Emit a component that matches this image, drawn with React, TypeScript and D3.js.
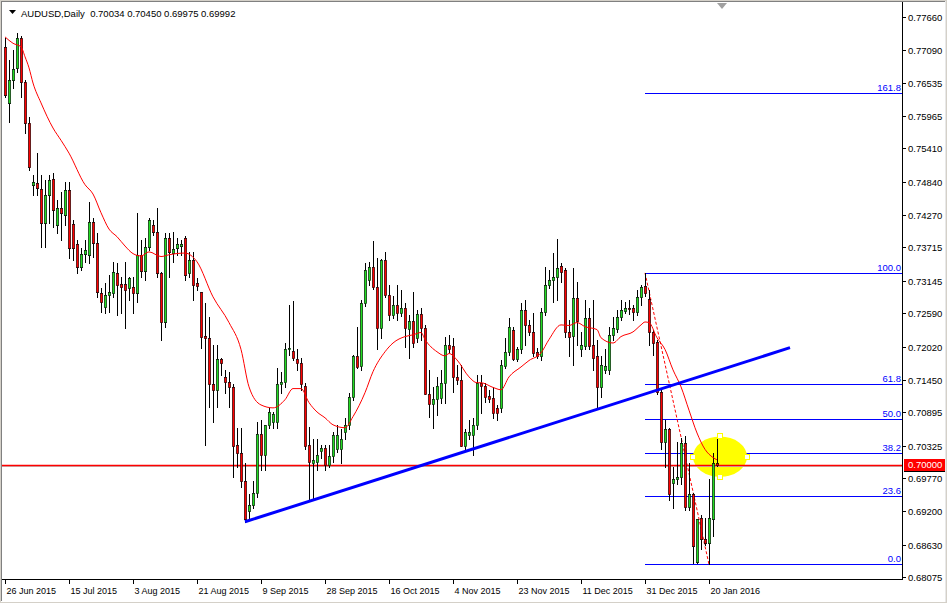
import * as d3 from "d3";

// AUDUSD daily bars, 26 Jun 2015 .. 22 Jan 2016 (index = bar position on the chart)
const opens = [
  0.7715, 0.7619, 0.7658, 0.7679, 0.7730, 0.7655, 0.7585, 0.7479, 0.7482, 0.7472,
  0.7414, 0.7462, 0.7489, 0.7410, 0.7439, 0.7427, 0.7470, 0.7412, 0.7378, 0.7338,
  0.7361, 0.7359, 0.7415, 0.7379, 0.7294, 0.7270, 0.7291, 0.7294, 0.7328, 0.7309,
  0.7309, 0.7303, 0.7304, 0.7294, 0.7359, 0.7332, 0.7373, 0.7410, 0.7398, 0.7328,
  0.7244, 0.7388, 0.7362, 0.7371, 0.7374, 0.7388, 0.7327, 0.7350, 0.7311, 0.7296,
  0.7220, 0.7217, 0.7137, 0.7128, 0.7181, 0.7149, 0.7142, 0.7133, 0.7034, 0.7020,
  0.6971, 0.6920, 0.6931, 0.6952, 0.7053, 0.7017, 0.7068, 0.7073, 0.7072, 0.7137,
  0.7142, 0.7197, 0.7195, 0.7181, 0.7174, 0.7135, 0.7034, 0.7003, 0.7005, 0.7024,
  0.7029, 0.7000, 0.7014, 0.7026, 0.7026, 0.7055, 0.7068, 0.7116, 0.7185, 0.7169,
  0.7277, 0.7315, 0.7338, 0.7304, 0.7234, 0.7350, 0.7291, 0.7256, 0.7273, 0.7260,
  0.7268, 0.7232, 0.7246, 0.7217, 0.7258, 0.7234, 0.7121, 0.7104, 0.7113, 0.7114,
  0.7140, 0.7205, 0.7203, 0.7150, 0.7145, 0.7032, 0.7051, 0.7051, 0.7067, 0.7140,
  0.7135, 0.7118, 0.7114, 0.7097, 0.7097, 0.7169, 0.7193, 0.7231, 0.7181, 0.7197,
  0.7265, 0.7239, 0.7227, 0.7193, 0.7186, 0.7261, 0.7308, 0.7315, 0.7321, 0.7340,
  0.7333, 0.7227, 0.7220, 0.7285, 0.7197, 0.7203, 0.7250, 0.7205, 0.7185, 0.7133,
  0.7161, 0.7161, 0.7222, 0.7232, 0.7253, 0.7263, 0.7268, 0.7268, 0.7261, 0.7287,
  0.7306, 0.7284, 0.7226, 0.7210, 0.7125, 0.7039, 0.7060, 0.6969, 0.6976, 0.6978,
  0.7036, 0.6928, 0.6949, 0.6834, 0.6909, 0.6873, 0.6866, 0.6906, 0.70034,
];
const highs = [
  0.7730, 0.7692, 0.7710, 0.7739, 0.7733, 0.7658, 0.7595, 0.7496, 0.7533, 0.7496,
  0.7487, 0.7496, 0.7499, 0.7453, 0.7467, 0.7484, 0.7484, 0.7419, 0.7385, 0.7371,
  0.7385, 0.7450, 0.7422, 0.7397, 0.7303, 0.7311, 0.7325, 0.7347, 0.7345, 0.7321,
  0.7347, 0.7321, 0.7321, 0.7431, 0.7385, 0.7388, 0.7422, 0.7419, 0.7439, 0.7330,
  0.7397, 0.7397, 0.7398, 0.7388, 0.7385, 0.7391, 0.7364, 0.7364, 0.7320, 0.7296,
  0.7277, 0.7253, 0.7205, 0.7205, 0.7183, 0.7162, 0.7159, 0.7137, 0.7063, 0.7063,
  0.7003, 0.6949, 0.6971, 0.7072, 0.7077, 0.7068, 0.7097, 0.7090, 0.7166, 0.7159,
  0.7208, 0.7273, 0.7280, 0.7197, 0.7183, 0.7140, 0.7065, 0.7043, 0.7043, 0.7034,
  0.7034, 0.7034, 0.7056, 0.7068, 0.7060, 0.7080, 0.7123, 0.7188, 0.7236, 0.7282,
  0.7345, 0.7347, 0.7383, 0.7354, 0.7352, 0.7364, 0.7308, 0.7289, 0.7308, 0.7299,
  0.7277, 0.7256, 0.7296, 0.7265, 0.7268, 0.7238, 0.7162, 0.7133, 0.7150, 0.7162,
  0.7219, 0.7222, 0.7217, 0.7171, 0.7171, 0.7060, 0.7077, 0.7080, 0.7154, 0.7154,
  0.7140, 0.7128, 0.7132, 0.7102, 0.7179, 0.7217, 0.7250, 0.7236, 0.7202, 0.7277,
  0.7282, 0.7248, 0.7260, 0.7200, 0.7268, 0.7338, 0.7333, 0.7362, 0.7386, 0.7345,
  0.7337, 0.7248, 0.7337, 0.7313, 0.7226, 0.7282, 0.7268, 0.7282, 0.7214, 0.7185,
  0.7197, 0.7236, 0.7253, 0.7265, 0.7282, 0.7279, 0.7282, 0.7273, 0.7299, 0.7308,
  0.7328, 0.7299, 0.7231, 0.7214, 0.7128, 0.7077, 0.7063, 0.6995, 0.7038, 0.7046,
  0.7048, 0.7003, 0.6952, 0.6906, 0.6913, 0.6909, 0.6976, 0.7020, 0.70450,
];
const lows = [
  0.7629, 0.7586, 0.7645, 0.7672, 0.7629, 0.7568, 0.7504, 0.7462, 0.7462, 0.7373,
  0.7373, 0.7414, 0.7407, 0.7397, 0.7385, 0.7410, 0.7354, 0.7350, 0.7328, 0.7333,
  0.7347, 0.7345, 0.7356, 0.7287, 0.7261, 0.7260, 0.7261, 0.7287, 0.7256, 0.7260,
  0.7234, 0.7282, 0.7260, 0.7279, 0.7321, 0.7316, 0.7368, 0.7393, 0.7321, 0.7214,
  0.7236, 0.7321, 0.7347, 0.7359, 0.7359, 0.7316, 0.7321, 0.7282, 0.7299, 0.7200,
  0.7034, 0.7099, 0.7072, 0.7099, 0.7154, 0.7123, 0.7099, 0.6978, 0.6996, 0.6961,
  0.6902, 0.6909, 0.6926, 0.6945, 0.6991, 0.6991, 0.7063, 0.7063, 0.7063, 0.7123,
  0.7133, 0.7188, 0.7179, 0.7162, 0.7128, 0.7026, 0.6940, 0.6940, 0.6991, 0.7012,
  0.6991, 0.6996, 0.7005, 0.7022, 0.7003, 0.7043, 0.7060, 0.7111, 0.7166, 0.7162,
  0.7272, 0.7308, 0.7301, 0.7197, 0.7217, 0.7287, 0.7248, 0.7251, 0.7248, 0.7255,
  0.7202, 0.7183, 0.7202, 0.7210, 0.7214, 0.7120, 0.7082, 0.7063, 0.7085, 0.7106,
  0.7106, 0.7193, 0.7125, 0.7137, 0.7031, 0.7024, 0.7043, 0.7017, 0.7060, 0.7089,
  0.7107, 0.7107, 0.7080, 0.7077, 0.7090, 0.7166, 0.7188, 0.7179, 0.7178, 0.7191,
  0.7205, 0.7222, 0.7185, 0.7183, 0.7179, 0.7256, 0.7303, 0.7279, 0.7282, 0.7313,
  0.7219, 0.7185, 0.7171, 0.7205, 0.7185, 0.7197, 0.7197, 0.7162, 0.7099, 0.7116,
  0.7157, 0.7155, 0.7214, 0.7227, 0.7248, 0.7260, 0.7258, 0.7248, 0.7256, 0.7273,
  0.7289, 0.7205, 0.7188, 0.7120, 0.7026, 0.6996, 0.6940, 0.6926, 0.6966, 0.6966,
  0.6923, 0.6923, 0.6832, 0.6832, 0.6855, 0.6863, 0.6829, 0.6877, 0.69975,
];
const closes = [
  0.7633, 0.7658, 0.7677, 0.7730, 0.7655, 0.7585, 0.7509, 0.7484, 0.7474, 0.7414,
  0.7462, 0.7487, 0.7436, 0.7439, 0.7431, 0.7470, 0.7371, 0.7371, 0.7338, 0.7361,
  0.7368, 0.7415, 0.7379, 0.7296, 0.7279, 0.7291, 0.7296, 0.7330, 0.7308, 0.7304,
  0.7299, 0.7320, 0.7294, 0.7359, 0.7332, 0.7373, 0.7419, 0.7398, 0.7328, 0.7244,
  0.7388, 0.7364, 0.7369, 0.7378, 0.7378, 0.7325, 0.7350, 0.7308, 0.7306, 0.7219,
  0.7217, 0.7137, 0.7128, 0.7181, 0.7174, 0.7142, 0.7133, 0.7031, 0.7020, 0.6971,
  0.6906, 0.6931, 0.6952, 0.7053, 0.7017, 0.7068, 0.7090, 0.7087, 0.7137, 0.7142,
  0.7197, 0.7200, 0.7183, 0.7174, 0.7137, 0.7031, 0.7005, 0.7007, 0.7017, 0.7029,
  0.7000, 0.7014, 0.7051, 0.7051, 0.7043, 0.7068, 0.7116, 0.7185, 0.7167, 0.7277,
  0.7333, 0.7338, 0.7304, 0.7234, 0.7350, 0.7291, 0.7256, 0.7273, 0.7260, 0.7268,
  0.7234, 0.7246, 0.7208, 0.7258, 0.7234, 0.7121, 0.7104, 0.7113, 0.7135, 0.7140,
  0.7205, 0.7198, 0.7150, 0.7145, 0.7032, 0.7056, 0.7056, 0.7067, 0.7140, 0.7135,
  0.7116, 0.7113, 0.7089, 0.7089, 0.7171, 0.7193, 0.7236, 0.7181, 0.7197, 0.7265,
  0.7238, 0.7227, 0.7191, 0.7186, 0.7261, 0.7308, 0.7315, 0.7321, 0.7337, 0.7330,
  0.7227, 0.7219, 0.7285, 0.7246, 0.7205, 0.7251, 0.7203, 0.7183, 0.7133, 0.7171,
  0.7169, 0.7222, 0.7234, 0.7253, 0.7265, 0.7268, 0.7267, 0.7261, 0.7287, 0.7304,
  0.7294, 0.7226, 0.7208, 0.7125, 0.7039, 0.7060, 0.6949, 0.6976, 0.6978, 0.7036,
  0.6928, 0.6949, 0.6860, 0.6906, 0.6872, 0.6866, 0.6909, 0.7003, 0.69992,
];

// red moving average at these bars
const maBars = [
  0, 2, 4, 5, 6, 7, 9, 12, 14, 16, 20, 22, 24, 26, 28, 30, 32, 34, 36, 39,
  41, 45, 48, 52, 56, 59, 61, 64, 67, 70, 72, 74, 76, 78, 80, 82, 85, 87, 90, 92,
  95, 97, 100, 102, 104, 105, 108, 110, 111, 113, 116, 118, 119, 122, 124, 126, 129, 131, 134, 136,
  139, 141, 143, 145, 148, 149, 152, 154, 157, 159, 160, 161, 163, 165, 167, 169, 171, 173, 175, 177,
  178,
];
const maValues = [
  0.7732, 0.7721, 0.7715, 0.7698, 0.7679, 0.7653, 0.7619, 0.7576, 0.7555, 0.7533,
  0.7479, 0.7463, 0.7431, 0.7403, 0.7390, 0.7374, 0.7361, 0.7357, 0.7364, 0.7356,
  0.7359, 0.7362, 0.7347, 0.7287, 0.7243, 0.7197, 0.7133, 0.7102, 0.7097, 0.7111,
  0.7130, 0.7130, 0.7106, 0.7090, 0.7080, 0.7068, 0.7063, 0.7082, 0.7123, 0.7159,
  0.7193, 0.7208, 0.7219, 0.7222, 0.7226, 0.7214, 0.7193, 0.7186, 0.7190, 0.7179,
  0.7150, 0.7140, 0.7140, 0.7132, 0.7128, 0.7150, 0.7167, 0.7178, 0.7191, 0.7214,
  0.7239, 0.7238, 0.7243, 0.7236, 0.7231, 0.7217, 0.7208, 0.7219, 0.7227, 0.7239,
  0.7244, 0.7243, 0.7217, 0.7197, 0.7162, 0.7133, 0.7093, 0.7054, 0.7026, 0.7012,
  0.7008,
];

const priceLabels = [
  "0.77660", "0.77090", "0.76535", "0.75965", "0.75410", "0.74840", "0.74270", "0.73715", "0.73145",
  "0.72590", "0.72020", "0.71450", "0.70895", "0.70325", "0.69770", "0.69200", "0.68630", "0.68075",
];
const dateLabels = [
  "26 Jun 2015", "15 Jul 2015", "3 Aug 2015", "21 Aug 2015", "9 Sep 2015", "28 Sep 2015",
  "16 Oct 2015", "4 Nov 2015", "23 Nov 2015", "11 Dec 2015", "31 Dec 2015", "20 Jan 2016",
];
const dateLabelBars = [0, 16, 32, 48, 64, 80, 96, 112, 128, 144, 160, 176];

const fibLevels = [0, 23.6, 38.2, 50, 61.8, 100, 161.8];
const fibHighBar = 160;
const fibHighPrice = 0.7328;
const fibLowBar = 176;
const fibLowPrice = 0.6829;

const trendBars = [60, 196.25];
const trendPrices = [0.6902, 0.72];

const levelPrice = 0.7;
const bidPrice = 0.69992;
const highlightBars = [172, 185.5];
const highlightPrices = [0.7048, 0.6979];

const header = "AUDUSD,Daily  0.70034 0.70450 0.69975 0.69992";

const FONT = "'Liberation Sans', Arial, sans-serif";

export default function App() {
  const width = 947;
  const height = 603;
  const plot = { left: 2, top: 2, right: 902, bottom: 579 };

  const x = d3.scaleLinear().domain([0, 224.25]).range([5, 902]);
  const y = d3.scaleLinear().domain([0.68075, 0.7766]).range([577, 17]);

  const maLine = d3
    .line<number>()
    .x((b) => x(b))
    .y((_, i) => y(maValues[i]))
    .curve(d3.curveMonotoneX)(maBars);

  const fibRange = fibHighPrice - fibLowPrice;

  const ex0 = x(highlightBars[0]);
  const ex1 = x(highlightBars[1]);
  const ey0 = y(highlightPrices[0]);
  const ey1 = y(highlightPrices[1]);
  const ecx = (ex0 + ex1) / 2;
  const ecy = (ey0 + ey1) / 2;
  const handles = [
    [ecx, ey0],
    [ex0, ecy],
    [ex1, ecy],
    [ecx, ey1],
  ];

  return (
    <div style={{ position: "fixed", left: 0, top: 0 }}>
      <svg width={width} height={height} style={{ display: "block", background: "#fff" }}>
        {/* window frame */}
        <rect x={0.5} y={0.5} width={width - 1} height={height - 1} fill="none" stroke="#d4d0c8" />
        <line x1={1.5} x2={1.5} y1={1} y2={height - 2} stroke="#808080" />
        <line x1={1} x2={width - 2} y1={1.5} y2={1.5} stroke="#808080" />
        <line x1={width - 1.5} x2={width - 1.5} y1={1} y2={height - 1} stroke="#e8e8e8" />

        {/* chart shift marker */}
        <polygon points="717,3 727,3 722,9" fill="#a0a0a0" />

        {/* fibonacci levels */}
        {fibLevels.map((lv) => {
          const yy = Math.round(y(fibLowPrice + (fibRange * lv) / 100)) + 0.5;
          return (
            <g key={lv}>
              <line x1={x(fibHighBar)} x2={plot.right} y1={yy} y2={yy} stroke="#0000ff" />
              <text
                x={plot.right - 1}
                y={yy - 3}
                textAnchor="end"
                fontSize={9.5}
                fontFamily={FONT}
                fill="#0000ff"
              >
                {lv.toFixed(1)}
              </text>
            </g>
          );
        })}
        <line
          x1={x(fibHighBar)}
          y1={y(fibHighPrice)}
          x2={x(fibLowBar)}
          y2={y(fibLowPrice)}
          stroke="#ff0000"
          strokeDasharray="3,2"
        />

        {/* yellow highlight */}
        <ellipse cx={ecx} cy={ecy} rx={(ex1 - ex0) / 2} ry={(ey1 - ey0) / 2} fill="#ffff00" />

        {/* horizontal level and bid line */}
        <line
          x1={plot.left}
          x2={plot.right}
          y1={Math.round(y(bidPrice)) + 1.5}
          y2={Math.round(y(bidPrice)) + 1.5}
          stroke="#c0c0c0"
        />
        <line
          x1={plot.left}
          x2={plot.right}
          y1={Math.round(y(levelPrice)) + 0.5}
          y2={Math.round(y(levelPrice)) + 0.5}
          stroke="#ff0000"
          strokeWidth={1.5}
        />

        {/* candles */}
        <g>
          {closes.map((c, i) => {
            const o = opens[i];
            const cx = Math.round(x(i));
            const top = Math.round(y(Math.max(o, c)));
            const bot = Math.round(y(Math.min(o, c)));
            const hi = Math.round(y(highs[i]));
            const lo = Math.round(y(lows[i]));
            const up = c >= o;
            return (
              <g key={i}>
                <line
                  x1={cx + 0.5}
                  x2={cx + 0.5}
                  y1={hi}
                  y2={lo + 1}
                  stroke="#000"
                  shapeRendering="crispEdges"
                />
                {bot - top < 1 ? (
                  <line
                    x1={cx - 1}
                    x2={cx + 2}
                    y1={top + 0.5}
                    y2={top + 0.5}
                    stroke="#000"
                    shapeRendering="crispEdges"
                  />
                ) : (
                  <rect
                    x={cx - 0.7}
                    y={top + 0.3}
                    width={2.4}
                    height={bot - top + 0.4}
                    fill={up ? "#22dd22" : "#ff0000"}
                    stroke="#000"
                    strokeWidth={0.6}
                  />
                )}
              </g>
            );
          })}
        </g>

        {/* moving average */}
        <path d={maLine ?? ""} fill="none" stroke="#ff0000" strokeWidth={1} />

        {/* trendline */}
        <line
          x1={x(trendBars[0])}
          y1={y(trendPrices[0])}
          x2={x(trendBars[1])}
          y2={y(trendPrices[1])}
          stroke="#0000ff"
          strokeWidth={3}
        />

        {/* highlight handles */}
        {handles.map(([hx, hy], i) => (
          <rect
            key={i}
            x={Math.round(hx) - 2.5}
            y={Math.round(hy) - 2.5}
            width={5}
            height={5}
            fill="#fff"
            stroke="#ffff00"
          />
        ))}

        {/* axes */}
        <line x1={plot.right + 0.5} x2={plot.right + 0.5} y1={plot.top} y2={plot.bottom + 1} stroke="#000" />
        <line x1={plot.left} x2={plot.right + 1} y1={plot.bottom + 0.5} y2={plot.bottom + 0.5} stroke="#000" />

        {priceLabels.map((t) => {
          const yy = Math.round(y(+t)) + 0.5;
          return (
            <g key={t}>
              <line x1={plot.right} x2={plot.right + 4} y1={yy} y2={yy} stroke="#000" />
              <text
                x={plot.right + 6}
                y={yy}
                dy="0.35em"
                fontSize={9.5}
                fontFamily={FONT}
                fill="#000"
              >
                {t}
              </text>
            </g>
          );
        })}

        {/* current level label */}
        <rect x={plot.right + 2} y={Math.round(y(levelPrice)) - 6} width={41} height={12} fill="#ff0000" />
        <line
          x1={plot.right + 2}
          x2={plot.right + 43}
          y1={Math.round(y(levelPrice)) + 6.5}
          y2={Math.round(y(levelPrice)) + 6.5}
          stroke="#000"
        />
        <text
          x={plot.right + 6}
          y={Math.round(y(levelPrice))}
          dy="0.35em"
          fontSize={9.5}
          fontFamily={FONT}
          fill="#fff"
        >
          {levelPrice.toFixed(5)}
        </text>

        {dateLabels.map((t, i) => {
          const xx = Math.round(x(dateLabelBars[i])) + 0.5;
          return (
            <g key={t}>
              <line x1={xx} x2={xx} y1={plot.bottom} y2={plot.bottom + 5} stroke="#000" />
              <text x={xx + 1} y={594} fontSize={9} fontFamily={FONT} fill="#000">
                {t}
              </text>
            </g>
          );
        })}

        {/* header */}
        <polygon points="9,10 16,10 12.5,14" fill="#000" />
        <text x={21} y={17} fontSize={9.5} fontFamily={FONT} fill="#000" style={{ whiteSpace: "pre" }}>
          {header}
        </text>
      </svg>
    </div>
  );
}
